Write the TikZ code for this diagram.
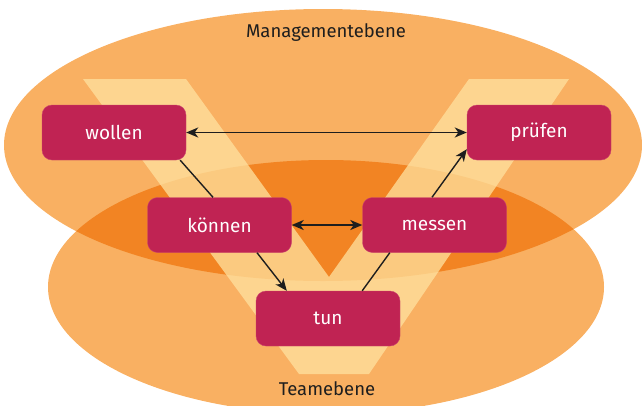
\documentclass[tikz,border=0pt]{standalone}
\usepackage{fontspec}
\setmainfont{Fira Sans}
\usepackage{tikz}
\usetikzlibrary{arrows.meta}
\definecolor{hellorange}{RGB}{249,176,98}
\definecolor{dunkelorange}{RGB}{242,132,35}
\definecolor{vgelb}{RGB}{255,226,160}
\definecolor{beere}{RGB}{192,35,83}
\definecolor{schrift}{RGB}{30,30,30}

\begin{document}
\begin{tikzpicture}[x=1pt,y=-1pt,
  stufe/.style={draw=beere!85!white,line width=0.4pt,fill=beere,text=white,rounded corners=10pt,minimum width=144pt,minimum height=55pt,font=\fontsize{19}{19}\selectfont},
  ebene/.style={text=schrift,font=\fontsize{18.5}{18.5}\selectfont},
  linie/.style={line width=1.4pt,draw=schrift},
  spitze/.tip={Stealth[length=12pt,width=10pt,inset=3.5pt]}]
\clip(0,0)rectangle(642,405);
\fill[hellorange](323,145)ellipse[x radius=319,y radius=136];
\fill[hellorange](326,287)ellipse[x radius=278,y radius=127];
\begin{scope}
\clip(323,145)ellipse[x radius=319,y radius=136];
\fill[dunkelorange](326,287)ellipse[x radius=278,y radius=127];
\end{scope}
\fill[vgelb,opacity=0.75](83,79)--(186,79)--(329,277)--(469,79)--(569,79)--(369,374)--(299,374)--cycle;
\node[ebene](management)at(326,33){Managementebene};
\node[ebene](team)at(327,389){Teamebene};
\node[stufe](wollen)at(114,132.5){wollen};
\node[stufe](pruefen)at(539,132.5){prüfen};
\node[stufe](koennen)at(219.5,225){können};
\node[stufe](messen)at(434.5,225){messen};
\node[stufe](tun)at(328,318.5){tun};
\draw[linie,line width=1.8pt,spitze-spitze](wollen)--(pruefen);
\draw[linie,line width=1.8pt,spitze-spitze](koennen)--(messen);
\draw[linie]([xshift=-6pt]wollen.south east)--([xshift=-6.5pt]koennen.north);
\draw[linie,-spitze]([xshift=37.5pt]koennen.south)--([xshift=31pt]tun.north west);
\draw[linie]([xshift=-38pt]tun.north east)--([xshift=27.5pt]messen.south west);
\draw[linie,-spitze]([xshift=-2.5pt]messen.north)--([yshift=11pt]pruefen.south west);
\end{tikzpicture}
\end{document}
